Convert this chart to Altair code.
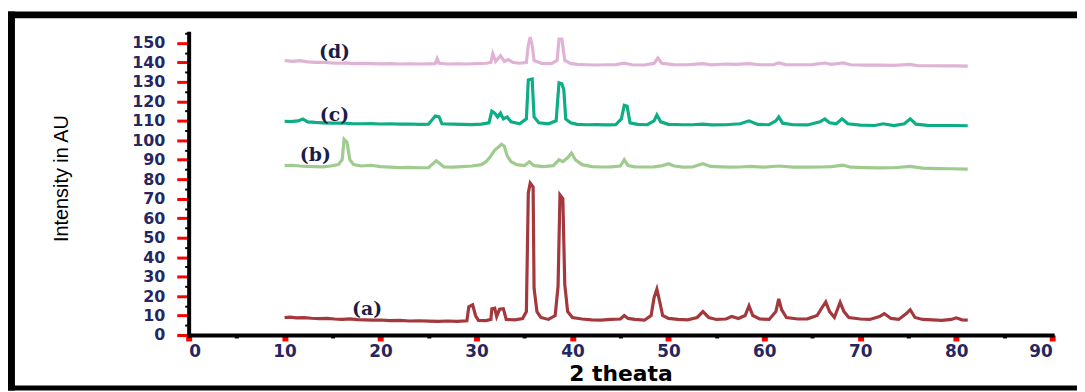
import altair as alt
import pandas as pd

# ---- data ----
a_x = [10.0, 10.6, 11.2, 12.0, 12.8, 13.6, 14.4, 15.2, 16.0, 16.8, 17.6, 18.4, 19.2, 20.0, 21.0, 22.0,
       23.0, 24.0, 25.0, 26.0, 27.0, 28.0, 29.0, 29.2, 29.6, 29.9, 30.2, 31.0, 31.5, 31.6, 31.9, 32.1,
       32.4, 32.8, 33.1, 34.0, 34.8, 35.2, 35.4, 35.6, 35.9, 36.0, 36.3, 36.7, 37.5, 38.2, 38.5, 38.7,
       39.0, 39.2, 39.5, 40.0, 41.0, 42.0, 43.0, 44.0, 45.0, 45.4, 45.8, 46.5, 47.5, 48.2, 48.5, 48.8,
       49.1, 49.4, 50.0, 51.0, 52.0, 53.0, 53.6, 54.2, 55.0, 56.0, 56.6, 57.3, 58.0, 58.4, 58.8, 59.5,
       60.5, 61.2, 61.5, 61.8, 62.3, 63.5, 64.5, 65.5, 66.0, 66.4, 66.8, 67.3, 67.9, 68.3, 68.8, 70.0,
       71.0, 72.0, 72.5, 73.2, 74.0, 74.8, 75.2, 75.7, 76.5, 77.5, 78.5, 79.5, 80.0, 80.6, 81.2]
a_y = [9.0, 9.2, 8.8, 8.9, 8.6, 8.4, 8.5, 8.2, 8.0, 8.3, 7.9, 7.8, 7.6, 7.7, 7.4, 7.5,
       7.2, 7.3, 7.1, 7.0, 7.2, 7.0, 7.3, 14.5, 15.5, 10.0, 7.5, 7.4, 8.0, 13.5, 13.8, 9.5,
       13.2, 13.5, 8.0, 7.8, 8.5, 12.0, 73.0, 78.0, 76.0, 24.0, 12.0, 9.0, 8.0, 10.0, 25.0, 72.0,
       70.0, 26.0, 12.0, 9.0, 8.2, 7.8, 7.6, 8.0, 8.2, 10.0, 8.5, 8.0, 7.6, 10.0, 19.0, 23.5,
       17.0, 10.0, 8.5, 8.0, 7.8, 9.0, 12.0, 9.0, 8.0, 8.2, 9.5, 8.5, 10.0, 15.0, 10.0, 8.2,
       8.0, 12.0, 18.5, 13.0, 9.0, 8.2, 8.3, 10.0, 14.0, 17.0, 12.0, 9.0, 16.8, 12.0, 9.0, 8.2,
       8.0, 9.5, 11.0, 8.5, 8.0, 11.0, 13.0, 9.0, 8.0, 7.8, 7.5, 8.0, 8.8, 7.8, 7.6]

b_x = [10.0, 10.8, 11.6, 12.4, 13.2, 14.0, 14.8, 15.6, 16.0, 16.2, 16.5, 16.8, 17.2, 18.0, 19.0, 20.0,
       21.0, 22.0, 23.0, 24.0, 25.0, 25.8, 26.2, 26.6, 27.5, 28.5, 29.5, 30.5, 31.0, 31.5, 31.9, 32.3,
       32.6, 32.9, 33.2, 33.6, 34.2, 35.0, 35.5, 36.0, 37.0, 38.0, 38.6, 39.0, 39.5, 39.9, 40.3, 41.0,
       42.0, 43.0, 44.0, 45.0, 45.4, 45.8, 46.5, 47.5, 48.5, 49.4, 50.0, 50.6, 51.5, 52.5, 53.6, 54.4,
       55.5, 56.5, 57.5, 58.5, 60.0, 61.5, 63.0, 64.5, 66.0, 67.0, 68.2, 69.0, 70.5, 72.0, 73.5, 75.2,
       76.5, 78.0, 79.5, 81.2]
b_y = [87.0, 87.2, 86.8, 86.6, 86.5, 86.4, 86.8, 87.5, 90.0, 100.5, 99.0, 90.0, 87.5, 86.8, 87.2, 86.5,
       86.2, 86.0, 86.1, 85.9, 86.0, 89.5, 88.0, 86.3, 86.2, 86.5, 86.8, 87.5, 89.0, 92.0, 95.0, 96.5,
       98.0, 97.0, 92.0, 89.0, 87.5, 87.0, 89.0, 87.0, 86.5, 87.0, 90.0, 89.0, 91.0, 93.5, 90.0, 87.5,
       86.5, 86.3, 86.4, 86.8, 90.0, 87.0, 86.4, 86.3, 86.4, 87.0, 88.0, 86.8, 86.2, 86.3, 88.0, 86.6,
       86.4, 86.2, 86.3, 86.6, 86.2, 86.8, 86.2, 86.2, 86.3, 86.5, 87.2, 86.2, 86.0, 85.8, 85.9, 86.6,
       85.7, 85.5, 85.4, 85.2]

c_x = [10.0, 10.6, 11.4, 11.9, 12.4, 13.2, 14.0, 15.0, 16.0, 17.0, 18.0, 19.0, 20.0, 21.0, 22.0, 23.0,
       24.0, 25.0, 25.7, 26.1, 26.4, 27.5, 28.5, 29.5, 30.5, 31.3, 31.6, 31.9, 32.2, 32.5, 32.8, 33.2,
       33.6, 34.5, 35.2, 35.4, 35.8, 36.0, 36.5, 37.5, 38.3, 38.6, 38.9, 39.1, 39.3, 39.8, 40.5, 41.5,
       42.5, 43.5, 44.5, 45.1, 45.4, 45.7, 46.0, 46.8, 47.8, 48.5, 48.8, 49.2, 50.0, 51.5, 52.5, 53.6,
       54.5, 56.0, 57.5, 58.4, 59.3, 60.5, 61.2, 61.5, 61.9, 63.0, 64.5, 65.8, 66.3, 66.8, 67.5, 68.1,
       68.7, 70.0, 71.5, 72.4, 73.5, 74.6, 75.2, 75.8, 77.0, 78.5, 80.0, 81.2]
c_y = [109.8, 109.6, 110.0, 111.0, 109.5, 109.2, 109.0, 108.8, 108.9, 108.6, 108.5, 108.6, 108.4, 108.5, 108.3, 108.4,
       108.2, 108.3, 112.5, 112.0, 108.5, 108.3, 108.2, 108.1, 108.3, 109.0, 115.0, 114.0, 112.0, 114.0, 111.0, 112.0,
       109.5, 108.5, 111.0, 131.0, 131.5, 112.0, 109.0, 108.5, 110.0, 129.5, 129.0, 126.0, 111.0, 109.0, 108.2, 108.0,
       108.1, 107.9, 108.0, 111.0, 118.0, 117.5, 109.0, 108.2, 108.0, 110.0, 113.0, 109.5, 108.2, 108.0, 108.0, 108.3,
       107.9, 108.0, 108.5, 110.0, 108.2, 108.0, 110.0, 112.0, 108.8, 108.0, 107.9, 109.5, 111.0, 109.0, 108.5, 111.0,
       108.5, 107.8, 107.6, 108.5, 107.6, 108.5, 111.0, 108.3, 107.7, 107.6, 107.6, 107.5]

d_x = [10.0, 10.8, 11.6, 12.4, 13.2, 14.0, 14.8, 15.6, 16.4, 17.2, 18.0, 19.0, 20.0, 21.0, 22.0, 23.0,
       24.0, 25.0, 25.7, 25.9, 26.1, 27.0, 28.0, 29.0, 30.0, 31.0, 31.5, 31.7, 32.0, 32.5, 32.9, 33.3,
       33.8, 34.5, 35.2, 35.4, 35.6, 35.8, 36.0, 36.8, 37.8, 38.4, 38.6, 38.9, 39.2, 39.8, 40.5, 41.5,
       42.5, 43.5, 44.5, 45.4, 46.2, 47.5, 48.5, 48.9, 49.3, 50.5, 52.0, 53.6, 54.5, 56.0, 57.0, 58.4,
       59.5, 61.0, 61.5, 62.2, 63.5, 65.0, 66.3, 67.0, 68.2, 69.0, 70.5, 72.0, 73.5, 75.2, 76.0, 77.5,
       79.0, 80.0, 81.2]
d_y = [141.0, 140.6, 140.9, 140.3, 140.0, 140.1, 139.8, 139.6, 139.8, 139.4, 139.5, 139.4, 139.3, 139.4, 139.2, 139.3,
       139.2, 139.3, 139.4, 142.0, 139.6, 139.2, 139.3, 139.2, 139.4, 139.6, 140.0, 144.5, 140.5, 143.5, 140.5, 141.5,
       140.0, 139.6, 140.0, 149.0, 153.0, 149.0, 141.0, 139.5, 139.4, 141.0, 152.0, 152.0, 141.0, 139.5, 139.0, 138.8,
       138.7, 138.8, 138.9, 139.6, 138.8, 138.7, 139.5, 142.3, 139.6, 138.9, 138.8, 139.4, 138.8, 139.2, 139.0, 139.4,
       138.8, 138.9, 139.8, 138.9, 138.8, 138.9, 139.7, 139.0, 139.8, 138.8, 138.6, 138.6, 138.5, 139.0, 138.3, 138.3,
       138.2, 138.2, 138.1]

series_names = ["a", "b", "c", "d"]
series_colors = ["#A3383D", "#9FCC8E", "#0DAE85", "#E0B3D4"]

label_text = ["(a)", "(b)", "(c)", "(d)"]
label_x = [18.6, 13.2, 15.2, 15.2]
label_y = [13.3, 92.3, 113.0, 145.4]

x_major = [0, 10, 20, 30, 40, 50, 60, 70, 80, 90]
x_minor = [5, 15, 25, 35, 45, 55, 65, 75, 85]
y_major = [0, 10, 20, 30, 40, 50, 60, 70, 80, 90, 100, 110, 120, 130, 140, 150]
y_minor = [5, 15, 25, 35, 45, 55, 65, 75, 85, 95, 105, 115, 125, 135, 145, 155]

rows = []
for name, xs, ys in zip(series_names, [a_x, b_x, c_x, d_x], [a_y, b_y, c_y, d_y]):
    for xv, yv in zip(xs, ys):
        rows.append({"series": name, "theta": xv, "intensity": yv})
df = pd.DataFrame(rows)
lab_df = pd.DataFrame({"label": label_text, "lx": label_x, "ly": label_y})
one = pd.DataFrame({"k": [0]})

x_scale = alt.Scale(domain=[0, 90], nice=False, zero=False)
y_scale = alt.Scale(domain=[0, 155], nice=False, zero=False)

label_color = "#262660"

lines = alt.Chart(df).mark_line(strokeWidth=3.2, strokeJoin="miter").encode(
    x=alt.X("theta:Q", scale=x_scale, axis=alt.Axis(
        orient="bottom", values=x_major, grid=False,
        domainColor="black", domainWidth=4, domainCap="square",
        tickColor="#FF0000", tickSize=6, tickWidth=6,
        labelFont="DejaVu Sans", labelFontWeight="bold", labelFontSize=17,
        labelColor=label_color, labelPadding=3,
        title="2 theata", titleFont="DejaVu Sans", titleFontWeight="bold",
        titleFontSize=22, titleColor="black", titleX=435, titleY=46,
        titleAlign="center", titleBaseline="alphabetic")),
    y=alt.Y("intensity:Q", scale=y_scale, axis=alt.Axis(
        orient="left", values=y_major, grid=False,
        domainColor="black", domainWidth=4, domainCap="square",
        tickColor="#FF0000", tickSize=12, tickWidth=3,
        labelFont="DejaVu Sans", labelFontWeight="bold", labelFontSize=16,
        labelColor=label_color, labelPadding=12,
        title="Intensity in AU", titleFont="Liberation Sans Narrow, Liberation Sans",
        titleFontWeight="normal", titleFontSize=20, titleColor="black",
        titleX=-128, titleY=146, titleAlign="center", titleBaseline="middle")),
    color=alt.Color("series:N", scale=alt.Scale(domain=series_names, range=series_colors), legend=None),
)

minor = alt.Chart(df).mark_point(opacity=0).encode(
    x=alt.X("theta:Q", scale=x_scale, axis=alt.Axis(
        orient="bottom", values=x_minor, labels=False, domain=False, grid=False, title="",
        tickColor="black", tickSize=3, tickWidth=4)),
    y=alt.Y("intensity:Q", scale=y_scale, axis=alt.Axis(
        orient="left", values=y_minor, labels=False, domain=False, grid=False, title="",
        tickColor="black", tickSize=4, tickWidth=2)),
)

labels = alt.Chart(lab_df).mark_text(
    font="DejaVu Serif", fontWeight="bold", fontSize=19, color="#1c1c48"
).encode(
    x=alt.X("lx:Q", scale=x_scale, axis=None),
    y=alt.Y("ly:Q", scale=y_scale, axis=None),
    text="label:N",
)

# outer black frame (decoration)
frame_top = alt.Chart(one).mark_rect(color="black").encode(
    x=alt.value(-182), x2=alt.value(895), y=alt.value(-22), y2=alt.value(-15))
frame_left = alt.Chart(one).mark_rect(color="black").encode(
    x=alt.value(-182), x2=alt.value(-175), y=alt.value(-22), y2=alt.value(360))
frame_bottom = alt.Chart(one).mark_rect(color="black").encode(
    x=alt.value(-182), x2=alt.value(895), y=alt.value(355), y2=alt.value(360))

chart = alt.layer(frame_top, frame_left, frame_bottom, minor, lines, labels).resolve_axis(
    x="independent", y="independent"
).properties(
    width=870, height=304,
    padding={"left": 0, "top": 2, "right": 0, "bottom": 0},
    background="white",
).configure_view(strokeWidth=0)

chart.save("out.html", embed_options={"renderer": "svg", "actions": False})
